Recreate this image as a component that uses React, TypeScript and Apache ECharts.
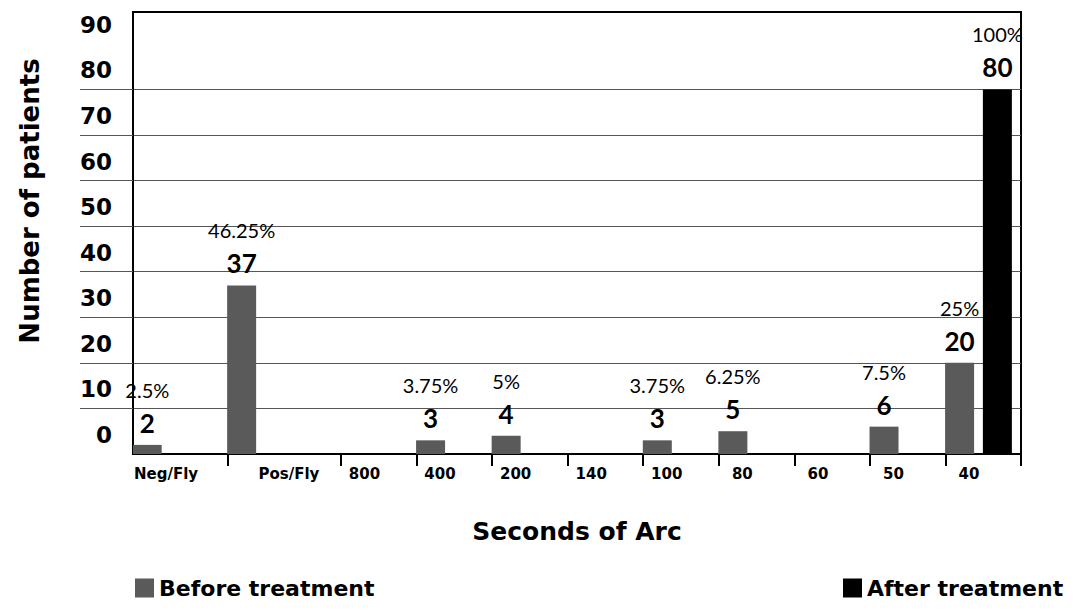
import React, { useEffect, useRef } from "react";
import * as echarts from "echarts";

// ---- data ----
const CATEGORIES = ["Neg/Fly", "Pos/Fly", "800", "400", "200", "140", "100", "80", "60", "50", "40"];
const BEFORE: (number | null)[] = [2, 37, null, 3, 4, null, 3, 5, null, 6, 20];
const AFTER: (number | null)[] = [null, null, null, null, null, null, null, null, null, null, 80];
const TOTAL_PATIENTS = 80;
const Y_TICK_LABELS = [0, 10, 20, 30, 40, 50, 60, 70, 80, 90];
const Y_LONG_TICKS = [10, 20, 30, 40, 50, 60, 70, 80];

// ---- layout (the source draws categories with unequal widths) ----
const CAT_SLOTS = [10, 12, 8, 8, 8, 8, 8, 8, 8, 8, 8];
const LABEL_SLOT = [3, 6, 2, 2, 2, 2, 2, 2, 2, 2, 2];
const BEFORE_SLOT = 1;
const AFTER_SLOT = 5;

const FONT = "Lato";
const WIDE = "DejaVu Sans";

function buildSlots() {
  const labels: string[] = [];
  const before: (number | null)[] = [];
  const after: (number | null)[] = [];
  const boundaries = new Set<number>();
  let start = 0;
  CATEGORIES.forEach((c, i) => {
    if (start > 0) boundaries.add(start);
    for (let s = 0; s < CAT_SLOTS[i]; s++) {
      labels.push(s === LABEL_SLOT[i] ? c : "");
      before.push(s === BEFORE_SLOT ? BEFORE[i] : null);
      after.push(s === AFTER_SLOT ? AFTER[i] : null);
    }
    start += CAT_SLOTS[i];
  });
  return { labels, before, after, boundaries };
}

const valueLabel = {
  show: true,
  position: "top" as const,
  distance: 5,
  color: "#000",
  formatter: (p: any) => {
    const v = p.value as number;
    const pct = Math.round((v / TOTAL_PATIENTS) * 10000) / 100;
    return `{p|${pct}%}\n{v|${v}}`;
  },
  rich: {
    p: { fontFamily: FONT, fontSize: 20, color: "#000", lineHeight: 32 },
    v: { fontFamily: FONT, fontSize: 26, fontWeight: "bold", color: "#000", lineHeight: 34 },
  },
};

export default function App() {
  const ref = useRef<HTMLDivElement>(null);
  useEffect(() => {
    if (!ref.current) return;
    const chart = echarts.init(ref.current, null, { renderer: "svg" });
    const { labels, before, after, boundaries } = buildSlots();
    const legendText = { fontFamily: WIDE, fontSize: 22, fontWeight: "bold", color: "#000" };
    chart.setOption({
      animation: false,
      backgroundColor: "#fff",
      textStyle: { fontFamily: FONT },
      grid: {
        left: 133,
        right: 55,
        top: 12,
        bottom: 158,
        show: true,
        borderColor: "#000",
        borderWidth: 2,
      },
      legend: [
        {
          data: ["Before treatment"],
          left: 130,
          top: 572,
          icon: "rect",
          itemWidth: 19,
          itemHeight: 19,
          textStyle: legendText,
        },
        {
          data: ["After treatment"],
          left: 838,
          top: 572,
          icon: "rect",
          itemWidth: 19,
          itemHeight: 19,
          textStyle: legendText,
        },
      ],
      xAxis: {
        type: "category",
        data: labels,
        name: "Seconds of Arc",
        nameLocation: "middle",
        nameGap: 65,
        nameTextStyle: { fontFamily: WIDE, fontSize: 25, fontWeight: "bold", color: "#000" },
        axisLine: { show: true, lineStyle: { color: "#000", width: 2 } },
        axisTick: {
          show: true,
          length: 12,
          interval: (idx: number) => boundaries.has(idx),
          lineStyle: { color: "#000", width: 2 },
        },
        axisLabel: {
          interval: (_idx: number, val: string) => val !== "",
          fontFamily: WIDE,
          fontSize: 15,
          fontWeight: "bold",
          color: "#000",
          margin: 12,
        },
        splitLine: { show: false },
      },
      yAxis: {
        type: "value",
        min: 0,
        max: 97,
        interval: 10,
        axisLine: { show: true, lineStyle: { color: "#000", width: 2 } },
        axisTick: {
          show: true,
          customValues: Y_LONG_TICKS,
          length: 53,
          lineStyle: { color: "#555", width: 1 },
        },
        axisLabel: {
          customValues: Y_TICK_LABELS,
          formatter: (v: number) => String(v),
          fontFamily: WIDE,
          fontSize: 23,
          fontWeight: "bold",
          color: "#000",
          margin: 21,
          verticalAlign: "bottom",
          lineHeight: 38,
        },
        splitLine: { show: true, lineStyle: { color: "#555", width: 1 } },
      },
      graphic: [
        {
          type: "text",
          x: 30,
          y: 201,
          rotation: Math.PI / 2,
          style: {
            text: "Number of patients",
            fontFamily: WIDE,
            fontSize: 26,
            fontWeight: "bold",
            fill: "#000",
            align: "center",
            verticalAlign: "middle",
          },
        },
      ],
      series: [
        {
          name: "Before treatment",
          type: "bar",
          data: before,
          barWidth: 29,
          barGap: "-100%",
          itemStyle: { color: "#5a5a5a" },
          label: valueLabel,
        },
        {
          name: "After treatment",
          type: "bar",
          data: after,
          barWidth: 29,
          barGap: "-100%",
          itemStyle: { color: "#000" },
          label: valueLabel,
        },
      ],
    });
    return () => chart.dispose();
  }, []);
  return (
    <div
      ref={ref}
      style={{ position: "absolute", left: 0, top: 0, width: 1076, height: 612 }}
    />
  );
}
